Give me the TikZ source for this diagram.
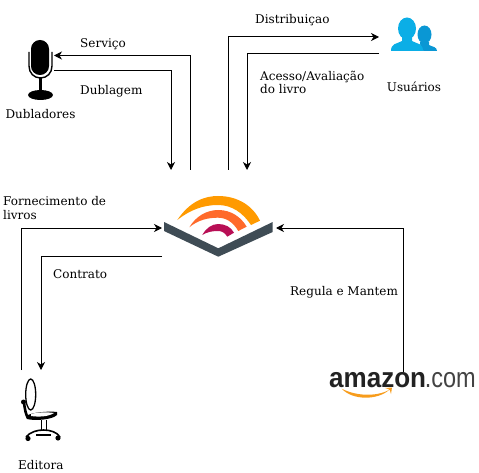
\documentclass[tikz,border=0pt]{standalone}
\usepackage{fontspec}
\setmainfont{DejaVu Serif}
\newfontfamily\amz{Liberation Sans}
\definecolor{logoslate}{HTML}{3F4C55}
\definecolor{logoorange}{HTML}{FF9A00}
\definecolor{logocoral}{HTML}{FF6A2B}
\definecolor{logocrimson}{HTML}{B80F55}
\definecolor{userlight}{HTML}{0BAEE6}
\definecolor{userdark}{HTML}{0A97D4}
\definecolor{amzorange}{HTML}{F79C1C}
\definecolor{amztext}{HTML}{222222}
\usetikzlibrary{arrows.meta}
\tikzset{
  lbl/.style={inner sep=0pt,anchor=base west,font=\fontsize{12}{14}\selectfont,text=black},
  lblc/.style={inner sep=0pt,anchor=base,font=\fontsize{12}{14}\selectfont,text=black},
  flow/.style={draw=black,line width=1pt,-{Stealth[length=8pt,width=8pt,inset=2.5pt]}},
}
\begin{document}
\begin{tikzpicture}[x=1pt,y=-1pt]
\useasboundingbox (0,0) rectangle (479,473);
% microphone
\fill[black,rounded corners=8.9pt] (31,40) rectangle (49,75);
\draw[black,line width=1.4pt] (29,52) -- (29,66) .. controls (29,73) and (34,78) .. (40.5,78) .. controls (47,78) and (52,73) .. (52,66) -- (52,52);
\draw[black,line width=3pt] (40.5,78) -- (40.5,92);
\fill[black] (40.5,95) ellipse[x radius=12.5,y radius=5];
% users
\fill[userdark] (424.5,34.5) ellipse[x radius=7,y radius=9];
\fill[userdark] (420,42) -- (429,42) -- (429,45) .. controls (433,47) and (437,47) .. (437,51) -- (418,51) .. controls (422,48) and (420,46) .. (420,42) -- cycle;
\fill[white] (415,27) .. controls (416,32) and (416,38) .. (415,43) -- (424,51.5) -- (416,51.5) -- (414,38) -- cycle;
\fill[userlight] (407,28.5) ellipse[x radius=9,y radius=11];
\fill[userlight] (402,37) -- (412,37) -- (412,41) .. controls (417,44) and (423,43) .. (423,51) -- (391,51) .. controls (391,43) and (397,44) .. (402,41) -- cycle;
% logo
\fill[logoslate] (164,222) -- (218.3,248.3) -- (272.7,222) -- (272.7,232) -- (218.3,256.7) -- (164,231) -- cycle;
\fill[logoorange] (177.3,220) .. controls (190,201) and (205,196) .. (218,196) .. controls (238,196) and (253,206) .. (260,220.7) -- (251,225) .. controls (243,213) and (232,205) .. (218,205) .. controls (203,205) and (190,210) .. cycle;
\fill[logocoral] (189.3,227.3) .. controls (196,216) and (207,210) .. (218.3,210) .. controls (231,210) and (241,217) .. (246.7,226.7) -- (238.3,231) .. controls (233,222) and (226,217.7) .. (218,217.7) .. controls (208,217.7) and (198,220) .. cycle;
\fill[logocrimson] (202.3,235) .. controls (206,228) and (212,224) .. (218.3,224) .. controls (225,224) and (231,227) .. (234,232.7) -- (227.3,236.7) .. controls (225,233) and (222,231) .. (218.3,231) .. controls (212,231) and (207,232) .. cycle;
% chair
\draw[black,line width=1.3pt] (30.7,394.5) ellipse[x radius=5,y radius=15.5];
\draw[black,line width=2.6pt] (24,403) .. controls (25,410) and (26,415) .. (28,418);
\fill[black] (23.5,402) circle[radius=2.5];
\fill[black] (26,416) .. controls (32,412) and (50,411) .. (57,412) -- (57,415) .. controls (52,420) and (34,421) .. (27,419) -- cycle;
\fill[white] (31,414) .. controls (38,412) and (48,412) .. (54,413) .. controls (48,417) and (38,417) .. (31,416) -- cycle;
\draw[black,line width=1pt] (41,420) -- (41,430) (46,420) -- (46,430);
\draw[black,line width=1.6pt] (26,437) .. controls (30,432) and (37,430) .. (43.5,430) .. controls (50,430) and (57,432) .. (60,437);
\draw[black,line width=1.4pt] (36,435) -- (51,435);
\fill[black] (28,438.5) circle[radius=2.6] (58,438) circle[radius=2.6];
% amazon
\node[inner sep=0pt,anchor=base west,text=amztext] (amazonword) at (329,387) {\scalebox{0.93}[1]{\amz\bfseries\fontsize{28}{30}\selectfont amazon}};
\node[inner sep=0pt,anchor=base east,text=amztext!85] (amazondot) at (476,387) {\scalebox{0.84}[1]{\amz\fontsize{28}{30}\selectfont .com}};
\fill[amzorange] (341.5,388.5) .. controls (355,396) and (376,397) .. (389,390) .. controls (378,400) and (353,401) .. (341.5,388.5) -- cycle;
\fill[amzorange] (385,388) -- (392,387.5) -- (391,394) .. controls (391,391) and (390,389) .. (385,388) -- cycle;
% anchors
\coordinate (logoA) at (190.5,170);
\coordinate (logoB) at (171,170);
\coordinate (logoC) at (228,170);
\coordinate (logoD) at (247,170);
\coordinate (logoE) at (162,228);
\coordinate (logoF) at (162,256);
\coordinate (logoG) at (276,228);
\coordinate (micA) at (54,55.5);
\coordinate (micB) at (54,70.5);
\coordinate (userA) at (379,37);
\coordinate (userB) at (379,54);
\coordinate (chairA) at (21,370);
\coordinate (chairB) at (41,370);
\coordinate (amzA) at (403.5,372);
% connectors
\draw[flow] (logoA) |- (micA);
\draw[flow] (micB) -| (logoB);
\draw[flow] (logoC) |- (userA);
\draw[flow] (userB) -| (logoD);
\draw[flow] (chairA) |- (logoE);
\draw[flow] (logoF) -| (chairB);
\draw[flow] (amzA) |- (logoG);
% labels
\node[lbl] (t1) at (80,48) {Serviço};
\node[lbl] (t2) at (80,95) {Dublagem};
\node[lblc] (t3) at (40.5,119) {Dubladores};
\node[lbl] (t4) at (255,24) {Distribuiçao};
\node[lbl] (t5) at (260,81) {Acesso/Avaliação};
\node[lbl] (t6) at (260,94) {do livro};
\node[lblc] (t7) at (414,92) {Usuários};
\node[lbl] (t8) at (3,205.5) {Fornecimento de};
\node[lbl] (t9) at (3,219) {livros};
\node[lbl] (t10) at (53,278) {Contrato};
\node[lbl] (t11) at (290,295) {Regula e Mantem};
\node[lbl] (t12) at (18,469) {Editora};
\end{tikzpicture}
\end{document}
